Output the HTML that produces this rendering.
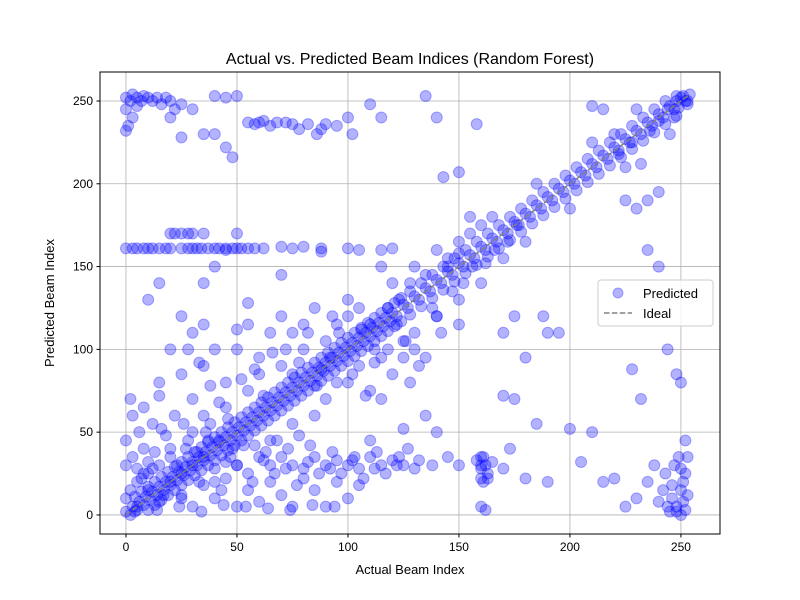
<!DOCTYPE html>
<html><head><meta charset="utf-8">
<style>
html,body{margin:0;padding:0;background:#fff;}
svg{display:block;font-family:"Liberation Sans","DejaVu Sans",sans-serif;}
</style></head>
<body>
<svg id="chart" width="800" height="600" viewBox="0 0 800 600">
<rect width="800" height="600" fill="#fff"/>
<g id="grid"></g>
<g id="points"></g>
<g id="ideal"></g>
<rect x="100" y="72" width="620" height="462" fill="none" stroke="#000" stroke-width="1"/>
<g id="ticks"></g>
<text x="410" y="64" text-anchor="middle" font-size="16">Actual vs. Predicted Beam Indices (Random Forest)</text>
<text x="410" y="574" text-anchor="middle" font-size="13">Actual Beam Index</text>
<text x="0" y="0" transform="translate(54,303) rotate(-90)" text-anchor="middle" font-size="13">Predicted Beam Index</text>
<g>
<rect x="598" y="280" width="115" height="46" rx="3" fill="#fff" fill-opacity="0.8" stroke="#ccc"/>
<circle cx="618" cy="293" r="5" fill="#0000ff" fill-opacity="0.3" stroke="#0000ff" stroke-opacity="0.3"/>
<text x="643" y="298" font-size="13">Predicted</text>
<line x1="604" y1="313" x2="632" y2="313" stroke="#808080" stroke-width="1.5" stroke-dasharray="5.5,2.4"/>
<text x="643" y="318" font-size="13">Ideal</text>
</g>
</svg>
<script>
const xTicks = [0,50,100,150,200,250];
const yTicks = [0,50,100,150,200,250];
const idealRange = [0,254];
const actualIdx = [
0,2,3,5,6,8,9,11,12,14,15,17,18,20,21,23,24,26,27,29,30,32,33,35,36,38,39,41,42,44,45,47,48,50,51,53,54,56,57,59,60,62,63,65,66,68,69,71,72,74,75,77,78,80,81,83,84,86,87,89,90,92,93,95,96,98,99,101,102,104,105,107,108,110,111,113,114,116,117,119,120,122,125,127,130,132,135,137,140,142,145,147,150,152,155,157,160,162,165,167,170,172,175,177,180,182,185,187,190,192,195,197,200,202,205,207,210,212,215,217,220,222,225,227,230,232,235,237,240,242,245,247,250,252,254,253,
10,25,20,40,30,50,45,65,55,75,70,90,80,100,95,115,105,125,120,140,130,150,140,160,155,170,165,180,185,200,210,225,230,245,60,85,75,110,100,130,115,150,
35,40,45,60,65,70,75,80,85,90,95,100,105,110,115,120,125,130,30,35,50,55,72,88,93,108,112,128,135,140,
0,5,8,10,12,20,22,25,28,30,34,37,40,45,48,52,55,58,62,70,75,80,88,88,100,105,115,120,25,30,20,
0,2,3,5,7,8,10,12,14,16,18,20,0,3,5,22,25,0,1,40,45,50,
55,58,60,62,65,68,72,75,78,82,86,88,90,95,100,102,110,115,140,158,135,20,30,25,40,45,48,35,
0,5,10,15,20,25,30,35,40,45,50,55,60,65,70,75,80,85,90,95,100,105,110,115,120,125,130,0,5,10,15,20,25,30,35,40,45,50,55,60,65,70,75,80,85,90,95,100,105,0,3,8,12,18,22,28,32,38,42,48,58,68,78,5,8,3,12,
160,160,160,162,163,158,161,165,170,175,150,145,138,140,160,162,170,173,180,185,
250,248,252,246,250,245,240,252,249,247,243,238,235,230,225,252,248,250,244,240,235,230,235,240,232,220,210,215,225,205,200,195,190,188,215,220,228,232,190,210,
170,175,180,135,125,110,145,150,155,160,143,150,30,25,20,15,10,15,35,40,45,50,50,55,70,
4,7,10,13,16,19,22,25,28,31,34,37,40,43,46,49,52,55,58,61,64,67,70,73,76,79,82,85,88,91,94,97,100,103,106,109,112,115,118,121,124,128,133,138,143,148,153,158,163,168,173,178,183,188,193,198,203,208,213,218,223,228,233,238,243,248,
10,13,16,19,22,25,28,31,34,37,40,43,46,49,52,55,58,61,64,67,70,73,76,79,82,85,88,91,94,97,100,103,106,109,112,115,118,121,124,128,133,138,143,148,153,158,163,168,173,178,183,188,193,198,203,208,213,218,223,228,233,238,243,248,
2,7,13,17,23,27,33,37,43,47,53,57,63,67,73,77,83,87,93,97,103,107,113,117,123,127,132,6,16,26,36,46,4,14,24,34,44,54,64,74,84,94,
2,8,15,25,28,33,38,35,42,52,58,62,66,78,82,86,92,96,102,106,112,118,122,126,132,138,142,147,152,156,162,166,172,176,150,145,135,128,123,118,
3,15,18,32,42,50,35,28,
248,251,253,246,250,244,242,253,251,
244,248,251,253,240,236,228,222,247,249,
62,72,82,92,102,112,122,160,161,163];
const predictedIdx = [
2,0,5,3,8,6,11,9,14,12,17,15,20,18,23,21,26,24,29,27,32,30,35,33,38,36,41,39,44,42,47,45,50,48,53,51,56,54,59,57,62,60,65,63,68,66,71,69,74,72,77,75,80,78,83,81,86,84,89,87,92,90,95,93,98,96,101,99,104,102,107,105,110,108,113,111,116,114,119,117,122,120,127,125,132,130,137,135,142,140,147,145,152,150,157,155,162,160,167,165,172,170,177,175,182,180,187,185,192,190,197,195,202,200,207,205,212,210,217,215,222,220,227,225,232,230,237,235,242,240,247,245,252,250,254,248,
25,10,40,20,50,30,65,45,75,55,90,70,100,80,115,95,125,105,140,120,150,130,160,140,170,155,180,165,200,185,225,210,245,230,85,60,110,75,130,100,150,115,
90,100,80,95,110,120,85,115,125,105,80,120,90,115,70,85,95,110,70,60,100,115,100,88,120,72,100,80,95,120,
161,161,161,161,161,161,170,161,161,161,161,161,161,161,161,161,161,161,161,162,161,162,161,159,161,160,160,161,170,170,170,
252,250,254,252,250,253,252,250,252,248,252,250,245,240,247,245,248,232,235,253,252,253,
237,236,237,238,235,237,237,236,233,236,230,233,236,235,240,230,248,240,240,236,253,240,245,228,230,222,216,230,
30,28,32,30,35,25,30,35,28,32,30,25,35,30,35,30,28,35,30,33,30,28,35,30,33,30,28,10,5,15,8,20,12,5,18,10,22,5,15,8,20,12,5,22,15,5,20,10,18,45,60,40,55,48,60,45,38,55,45,40,42,45,48,20,25,35,28,
35,28,22,30,25,33,20,32,28,70,30,35,30,50,5,3,72,40,22,55,
0,5,3,10,15,2,8,25,35,30,25,30,20,10,5,45,85,80,100,150,160,185,190,195,212,230,247,245,190,32,52,110,110,120,20,22,88,70,20,50,
110,120,95,60,52,45,155,165,180,175,204,207,110,120,100,80,130,140,140,150,160,170,112,128,145,
11,14,17,20,23,26,29,32,35,38,41,44,47,50,53,56,59,62,65,68,71,74,77,80,83,86,89,92,95,98,101,104,107,110,113,116,119,122,125,128,131,135,140,145,150,155,160,165,170,175,180,185,190,195,200,205,210,215,220,225,230,235,240,245,250,253,
3,6,9,12,15,18,21,24,27,30,33,36,39,42,45,48,51,54,57,60,63,66,69,72,75,78,81,84,87,90,93,96,99,102,105,108,111,114,117,121,126,131,136,141,146,151,156,161,166,171,176,181,186,191,196,201,206,211,216,221,226,231,236,241,
15,22,38,12,30,40,20,45,15,35,42,20,38,25,40,18,42,25,38,25,35,22,38,25,35,40,33,50,52,55,50,58,2,3,5,2,6,5,4,3,6,5,
70,65,72,85,100,92,78,115,68,82,88,72,98,92,110,78,95,110,85,112,92,100,115,105,90,125,110,135,140,150,152,160,165,175,158,150,145,140,130,125,
161,161,161,161,161,161,170,170,
2,8,12,18,28,5,15,35,20,
245,250,253,250,238,232,225,218,240,246,
33,28,32,28,33,28,30,30,35,22];

const X0=100, X1=720, Y0=72, Y1=534;
const XMIN=-11.7, XMAX=267.6, YMIN=-11.5, YMAX=267.5;
function xs(v){return X0+(v-XMIN)/(XMAX-XMIN)*(X1-X0);}
function ys(v){return Y1-(v-YMIN)/(YMAX-YMIN)*(Y1-Y0);}
const NS="http://www.w3.org/2000/svg";
const grid=document.getElementById('grid'), ticks=document.getElementById('ticks');
xTicks.forEach(t=>{
  const g=document.createElementNS(NS,'line');
  g.setAttribute('x1',xs(t));g.setAttribute('x2',xs(t));g.setAttribute('y1',Y0);g.setAttribute('y2',Y1);
  g.setAttribute('stroke','#b0b0b0');g.setAttribute('stroke-width','0.8');
  
  
  grid.appendChild(g);
  const tk=document.createElementNS(NS,'line');
  tk.setAttribute('x1',xs(t));tk.setAttribute('x2',xs(t));tk.setAttribute('y1',Y1);tk.setAttribute('y2',Y1+3.5);
  tk.setAttribute('stroke','#000');
  
  
  ticks.appendChild(tk);
  const tx=document.createElementNS(NS,'text');
  tx.setAttribute('x',xs(t));tx.setAttribute('y',Y1+17);tx.setAttribute('text-anchor','middle');tx.setAttribute('font-size','12');
  tx.textContent=t;
  
  
  ticks.appendChild(tx);
});
yTicks.forEach(t=>{
  const g=document.createElementNS(NS,'line');
  g.setAttribute('y1',ys(t));g.setAttribute('y2',ys(t));g.setAttribute('x1',X0);g.setAttribute('x2',X1);
  g.setAttribute('stroke','#b0b0b0');g.setAttribute('stroke-width','0.8');
  
  
  grid.appendChild(g);
  const tk=document.createElementNS(NS,'line');
  tk.setAttribute('y1',ys(t));tk.setAttribute('y2',ys(t));tk.setAttribute('x1',X0-3.5);tk.setAttribute('x2',X0);
  tk.setAttribute('stroke','#000');
  
  
  ticks.appendChild(tk);
  const tx=document.createElementNS(NS,'text');
  tx.setAttribute('x',X0-7);tx.setAttribute('y',ys(t)+4);tx.setAttribute('text-anchor','end');tx.setAttribute('font-size','12');
  tx.textContent=t;
  
  
  ticks.appendChild(tx);
});
const pts=document.getElementById('points');
const n=Math.min(actualIdx.length,predictedIdx.length);
for(let i=0;i<n;i++){
  const c=document.createElementNS(NS,'circle');
  c.setAttribute('cx',xs(actualIdx[i]));c.setAttribute('cy',ys(predictedIdx[i]));c.setAttribute('r','5.5');
  c.setAttribute('fill','#0000ff');c.setAttribute('fill-opacity','0.3');
  c.setAttribute('stroke','#0000ff');c.setAttribute('stroke-opacity','0.3');
  
  
  pts.appendChild(c);
}
const il=document.createElementNS(NS,'line');
il.setAttribute('x1',xs(idealRange[0]));il.setAttribute('y1',ys(idealRange[0]));
il.setAttribute('x2',xs(idealRange[1]));il.setAttribute('y2',ys(idealRange[1]));
il.setAttribute('stroke','#808080');il.setAttribute('stroke-width','1.5');il.setAttribute('stroke-dasharray','5.5,2.4');


document.getElementById('ideal').appendChild(il);
</script>
</body></html>
